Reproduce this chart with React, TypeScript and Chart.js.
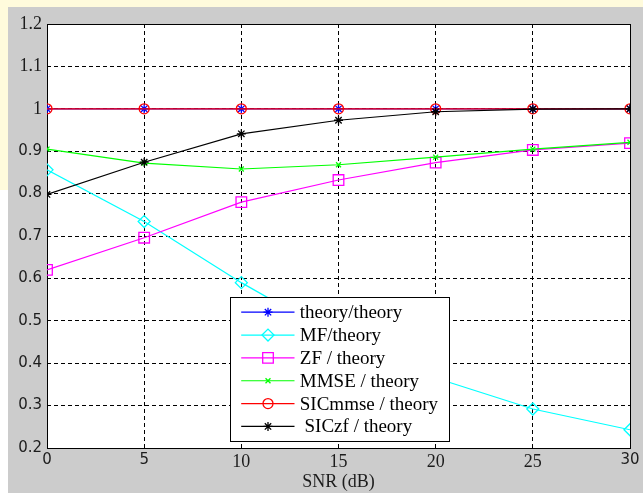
import React, { useEffect, useRef } from 'react';
import { Chart, registerables } from 'chart.js';
import { drawPoint } from 'chart.js/helpers';

Chart.register(...registerables);

// ---- data ----
const snr = [0, 5, 10, 15, 20, 25, 30];
const theoryTheory = [1, 1, 1, 1, 1, 1, 1];
const mfTheory = [0.856, 0.734, 0.59, 0.46, 0.365, 0.292, 0.243];
const zfTheory = [0.62, 0.696, 0.78, 0.832, 0.873, 0.903, 0.919];
const mmseTheory = [0.905, 0.872, 0.858, 0.868, 0.886, 0.905, 0.921];
const sicMmseTheory = [1, 1, 1, 1, 1, 1, 1];
const sicZfTheory = [0.798, 0.874, 0.941, 0.973, 0.993, 0.999, 1.0];

const seriesLabels = [
  'theory/theory',
  'MF/theory',
  'ZF / theory',
  'MMSE / theory',
  'SICmmse / theory',
  ' SICzf / theory',
];
const xTicks = [0, 5, 10, 15, 20, 25, 30];
const yTicks = [0.2, 0.3, 0.4, 0.5, 0.6, 0.7, 0.8, 0.9, 1.0, 1.1, 1.2];
const xAxisTitle = 'SNR (dB)';

const SERIF = '"Liberation Serif", "Times New Roman", serif';
const SANS = '"DejaVu Sans", sans-serif';
const TEXT = '#1c1c1c';

const styles = [
  { color: '#0000ff', pointStyle: 'star', radius: 4.5 },
  { color: '#00ffff', pointStyle: 'rectRot', radius: 6 },
  { color: '#ff00ff', pointStyle: 'rect', radius: 7.5 },
  { color: '#00ff00', pointStyle: 'crossRot', radius: 3.5 },
  { color: '#ff0000', pointStyle: 'circle', radius: 5 },
  { color: '#000000', pointStyle: 'star', radius: 4.5 },
];

const allSeries = [theoryTheory, mfTheory, zfTheory, mmseTheory, sicMmseTheory, sicZfTheory];

const bgPlugin = {
  id: 'plotBg',
  beforeDraw(chart: any) {
    const { ctx, chartArea: a } = chart;
    ctx.save();
    ctx.fillStyle = '#ffffff';
    ctx.fillRect(a.left, a.top, a.right - a.left, a.bottom - a.top);
    ctx.restore();
  },
  beforeDatasetsDraw(chart: any) {
    const { ctx, chartArea: a } = chart;
    ctx.save();
    ctx.strokeStyle = '#000';
    ctx.lineWidth = 1;
    const l = Math.round(a.left) + 0.5;
    const t = Math.round(a.top) + 0.5;
    const r = Math.round(a.right) + 0.5;
    const b = Math.round(a.bottom) + 0.5;
    ctx.strokeRect(l, t, r - l, b - t);
    ctx.restore();
  },
};

const legendPlugin = {
  id: 'matlabLegend',
  afterDraw(chart: any) {
    const { ctx, chartArea: a } = chart;
    const w = 219;
    const h = 144;
    const left = Math.round(a.left + 183) + 0.5;
    const top = Math.round(a.bottom - 151) + 0.5;
    ctx.save();
    ctx.fillStyle = '#ffffff';
    ctx.fillRect(left, top, w, h);
    ctx.strokeStyle = '#000';
    ctx.lineWidth = 1;
    ctx.strokeRect(left, top, w, h);
    ctx.font = `19px ${SERIF}`;
    ctx.textBaseline = 'middle';
    ctx.textAlign = 'left';
    seriesLabels.forEach((lab, i) => {
      const st = styles[i];
      const y = top + 14.7 + i * 22.85;
      ctx.strokeStyle = st.color;
      ctx.lineWidth = 1.2;
      ctx.beginPath();
      ctx.moveTo(left + 10.7, y);
      ctx.lineTo(left + 64, y);
      ctx.stroke();
      ctx.fillStyle = 'rgba(0,0,0,0)';
      ctx.lineWidth = 1.3;
      drawPoint(ctx, { pointStyle: st.pointStyle, rotation: 0, radius: st.radius, borderWidth: 1.3 } as any, left + 37.5, y);
      ctx.fillStyle = '#000';
      ctx.fillText(lab, left + 69.3, y + 1);
    });
    ctx.restore();
  },
};

export default function App() {
  const ref = useRef<HTMLCanvasElement | null>(null);

  useEffect(() => {
    if (!ref.current) return;
    const datasets = allSeries.map((vals, i) => ({
      label: seriesLabels[i],
      data: snr.map((x, j) => ({ x, y: vals[j] })),
      borderColor: styles[i].color,
      backgroundColor: 'rgba(0,0,0,0)',
      pointBorderColor: styles[i].color,
      pointBackgroundColor: 'rgba(0,0,0,0)',
      pointStyle: styles[i].pointStyle,
      pointRadius: styles[i].radius,
      pointBorderWidth: 1.3,
      borderWidth: 1.2,
      tension: 0,
      fill: false,
      order: allSeries.length - i,
    }));

    const chart = new Chart(ref.current, {
      type: 'line',
      data: { datasets } as any,
      plugins: [bgPlugin, legendPlugin],
      options: {
        animation: false,
        responsive: false,
        layout: { padding: { top: 17, right: 13, left: 0, bottom: 0 } },
        plugins: { legend: { display: false }, tooltip: { enabled: false } },
        scales: {
          x: {
            type: 'linear',
            min: 0,
            max: 30,
            afterBuildTicks: (s: any) => {
              s.ticks = xTicks.map((v) => ({ value: v }));
            },
            afterFit: (s: any) => {
              s.height = 45;
            },
            border: { display: false, dash: [4, 3] },
            grid: { color: '#000', lineWidth: 1, drawTicks: false },
            ticks: {
              padding: 3,
              color: TEXT,
              maxRotation: 0,
              autoSkip: false,
              font: (c: any) => {
                const v = c.tick ? c.tick.value : 0;
                return v === 0 || v === 5 || v === 30
                  ? { family: SANS, size: 15 }
                  : { family: SERIF, size: 18 };
              },
              callback: (v: any) => String(v),
            },
            title: {
              display: true,
              text: xAxisTitle,
              color: TEXT,
              font: { family: SERIF, size: 18 },
              padding: { top: 0, bottom: 0 },
            },
          },
          y: {
            type: 'linear',
            min: 0.2,
            max: 1.2,
            afterBuildTicks: (s: any) => {
              s.ticks = yTicks.map((v) => ({ value: v }));
            },
            afterFit: (s: any) => {
              s.width = 39;
            },
            border: { display: false, dash: [4, 3] },
            grid: { color: '#000', lineWidth: 1, drawTicks: false },
            ticks: {
              padding: 5,
              color: TEXT,
              autoSkip: false,
              font: (c: any) => {
                const v = c.tick ? c.tick.value : 0;
                return v >= 0.95 ? { family: SERIF, size: 18 } : { family: SANS, size: 15 };
              },
              callback: (v: any) => String(Math.round(Number(v) * 10) / 10),
            },
          },
        },
      } as any,
    });
    return () => chart.destroy();
  }, []);

  return (
    <div style={{ position: 'absolute', left: 0, top: 0, width: 643, height: 493, background: '#ffffff', overflow: 'hidden' }}>
      <div style={{ position: 'absolute', left: 0, top: 0, width: 643, height: 7, background: '#fffbdc' }} />
      <div style={{ position: 'absolute', left: 0, top: 0, width: 8, height: 190, background: '#fffbdc' }} />
      <div style={{ position: 'absolute', left: 8, top: 7, width: 635, height: 486, background: '#cccccc' }}>
        <canvas ref={ref} width={635} height={486} style={{ display: 'block', width: 635, height: 486 }} />
      </div>
    </div>
  );
}
